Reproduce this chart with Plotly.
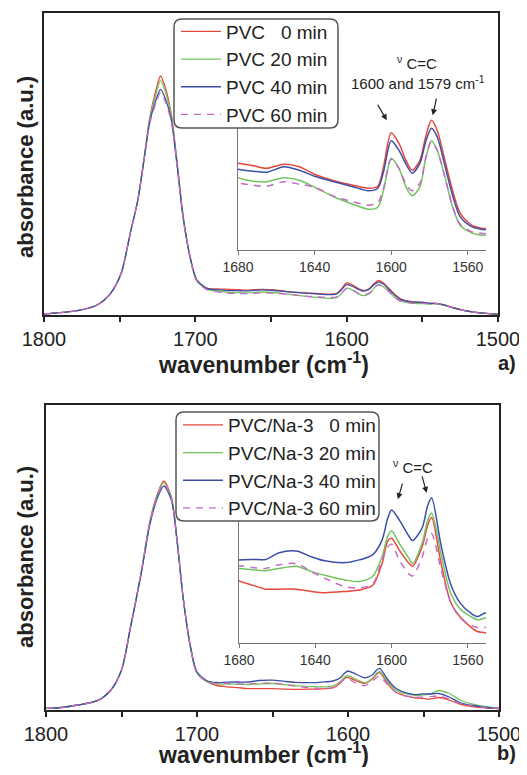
import plotly.graph_objects as go

# The page body adds an 8px margin on every side; size the figure so the page never overflows
WIN_W, WIN_H = 527, 775
OFF = 8
W, H = WIN_W - 2 * OFF, WIN_H - 2 * OFF
FONT = "Liberation Sans, Arial, sans-serif"

# ---------------- data (absorbance, arbitrary units) ----------------
wn_a = [1800, 1790, 1778, 1765, 1756, 1749, 1743, 1738, 1734, 1730, 1726, 1723, 1720, 1716, 1712, 1708, 1703, 1699, 1692, 1686,
        1680, 1672, 1665, 1656, 1648, 1640, 1630, 1620, 1612, 1607, 1604, 1600, 1596, 1592, 1589, 1585, 1582, 1579, 1576, 1572,
        1568, 1564, 1558, 1553, 1549,
        1545, 1541, 1536, 1530, 1522, 1512, 1500]
a_0min = [1, 2.3, 4.3, 10, 21.7, 41.7, 81.7, 115, 155, 198, 225, 239, 228, 202, 152, 98, 55, 35, 26.7, 26.0,
          25.9, 25.4, 24.9, 25.7, 25.2, 23.7, 22.4, 21.5, 20.9, 21.3, 25.2, 32.0, 29.9, 26.2, 24.5, 26.5, 31.2, 34.5, 32.5, 26.5,
          20.5, 15.9, 13.5, 12.9, 12.7,
          11.6, 11.7, 10.3, 7.5, 4.5, 2.2, 0.8]
a_20min = [1, 2.3, 4.3, 10, 21.7, 41.7, 81.7, 115, 155, 197, 221, 234.3, 224, 200, 151, 97, 54, 34, 25.5, 24.0,
           23.0, 22.3, 22.2, 23.0, 22.5, 21.1, 19.2, 17.7, 16.7, 17.1, 20.5, 26.9, 24.9, 20.9, 19.4, 21.2, 26.9, 30.4, 28.5, 23.2,
           17.2, 13.5, 12.0, 11.5, 11.5,
           11.0, 11.2, 9.9, 7.2, 4.3, 2.1, 0.8]
a_40min = [1, 2.3, 4.3, 10, 21.7, 41.7, 81.7, 115, 154, 194, 215, 225.7, 217, 196, 149, 97, 55, 35, 26.4, 25.3,
           24.7, 24.3, 24.1, 25.2, 24.5, 23.3, 22.2, 21.2, 20.4, 20.9, 24.2, 30.4, 28.5, 25.5, 23.9, 25.9, 30.2, 32.9, 31.2, 25.5,
           19.5, 15.2, 13.2, 12.7, 12.5,
           11.5, 11.6, 10.2, 7.4, 4.4, 2.2, 0.8]
a_60min = [1, 2.3, 4.3, 10, 21.7, 41.7, 81.7, 115, 153, 192, 212, 222.3, 214, 194, 148, 96, 54, 34, 25.0, 23.3,
           22.0, 21.5, 21.3, 22.2, 21.7, 21.1, 19.3, 18.2, 17.5, 18.0, 20.9, 26.7, 24.9, 21.5, 20.4, 21.9, 26.9, 30.2, 28.5, 23.2,
           17.3, 13.7, 12.2, 11.9, 11.7,
           11.1, 11.3, 10.0, 7.3, 4.3, 2.1, 0.8]

wn_b = [1800, 1790, 1779, 1766, 1757, 1750, 1744, 1737, 1731, 1726, 1722, 1717, 1713, 1709, 1704, 1700, 1693, 1687,
        1680, 1673, 1666, 1659, 1650, 1642, 1635, 1624, 1617, 1610, 1605, 1602, 1600, 1596, 1591, 1589, 1584, 1581, 1579,
        1574, 1569, 1564, 1558, 1555, 1551,
        1546, 1540, 1533, 1525, 1515, 1505, 1500]
b_0min = [1.7, 2.5, 5, 9.3, 20, 40, 83, 137, 190, 217, 229, 213, 167, 110, 60, 37, 28, 24.5,
          23.2, 22.3, 21.4, 21.4, 21.4, 20.9, 20.6, 20.9, 21.2, 22.2, 27.1, 32.1, 32.7, 30.1, 27.2, 26.5, 30.8, 35.7, 37.3,
          27.0, 18.5, 15.2, 12.8, 12.0, 11.7,
          10.8, 12.5, 10.0, 5.5, 3.0, 1.8, 1.5]
b_20min = [1.7, 2.5, 5, 9.3, 20, 40, 83, 137, 189, 216, 227.3, 212, 167, 110, 60, 37, 28, 26,
           26.0, 25.7, 25.5, 26.0, 26.5, 25.3, 24.5, 23.4, 23.1, 24.2, 28.6, 33.2, 34.3, 31.6, 28.3, 27.1, 31.6, 36.8, 38.3,
           29.0, 20.5, 17.0, 15.2, 14.6, 15.0,
           16.0, 19.5, 16.5, 9.5, 5.0, 2.5, 1.8]
b_40min = [1.7, 2.5, 5, 9.3, 20, 40, 83, 136, 187, 213, 224, 210, 166, 110, 61, 38, 29, 27.5,
           27.9, 28.0, 28.0, 29.5, 29.9, 28.6, 27.7, 27.3, 27.9, 29.0, 32.3, 37.2, 39.0, 36.8, 33.2, 32.2, 35.0, 40.1, 41.7,
           31.0, 22.5, 18.3, 15.9, 15.3, 16.1,
           16.0, 16.5, 13.0, 7.0, 4.0, 2.0, 1.5]
b_60min = [1.7, 2.5, 5, 9.3, 20, 40, 83, 137, 189, 215, 226, 211, 166, 110, 60, 37, 28, 26.5,
           26.6, 26.2, 26.0, 26.8, 27.1, 25.3, 23.8, 21.9, 21.7, 22.5, 27.9, 30.8, 31.4, 27.9, 24.8, 24.3, 28.5, 32.8, 33.7,
           25.7, 18.5, 15.0, 13.3, 12.9, 12.9,
           13.2, 14.0, 11.0, 6.0, 3.3, 2.0, 1.5]

names_a = ["PVC\u00a0\u00a0\u00a00 min", "PVC 20 min", "PVC 40 min", "PVC 60 min"]
names_b = ["PVC/Na-3\u00a0\u00a0\u00a00 min", "PVC/Na-3 20 min", "PVC/Na-3 40 min", "PVC/Na-3 60 min"]
main_ticks = [1800, 1750, 1700, 1650, 1600, 1550, 1500]
main_ticktext = ["1800", "", "1700", "", "1600", "", "1500"]
inset_ticks = [1680, 1640, 1600, 1560]

# ---------------- styles ----------------
colors = ["#e8473b", "#72c55e", "#3c4ea6", "#c66ac6"]
dashes = ["solid", "solid", "solid", "7px,6px"]


def px_x(x):
    """window pixel x -> paper fraction"""
    return (x - OFF) / W


def px_y(y):
    """window pixel y -> paper fraction"""
    return 1 - (y - OFF) / H


fig = go.Figure()

series_a = [a_0min, a_20min, a_40min, a_60min]
series_b = [b_0min, b_20min, b_40min, b_60min]

for i in range(4):
    fig.add_trace(go.Scatter(x=wn_a, y=series_a[i], mode="lines", name=names_a[i],
                             line=dict(color=colors[i], width=1.3, dash=dashes[i], shape="spline", smoothing=0.8),
                             xaxis="x", yaxis="y", legend="legend"))
for i in range(4):
    fig.add_trace(go.Scatter(x=wn_a, y=series_a[i], mode="lines", showlegend=False,
                             line=dict(color=colors[i], width=1.5, dash=dashes[i], shape="spline", smoothing=0.8),
                             xaxis="x3", yaxis="y3"))
for i in range(4):
    fig.add_trace(go.Scatter(x=wn_b, y=series_b[i], mode="lines", name=names_b[i],
                             line=dict(color=colors[i], width=1.3, dash=dashes[i], shape="spline", smoothing=0.8),
                             xaxis="x2", yaxis="y2", legend="legend2"))
for i in range(4):
    fig.add_trace(go.Scatter(x=wn_b, y=series_b[i], mode="lines", showlegend=False,
                             line=dict(color=colors[i], width=1.5, dash=dashes[i], shape="spline", smoothing=0.8),
                             xaxis="x4", yaxis="y4"))


def main_x(domain, anchor):
    return dict(domain=domain, anchor=anchor, range=[1800, 1500], tickmode="array",
                tickvals=main_ticks, ticktext=main_ticktext, ticks="outside", ticklen=5, tickwidth=1.5,
                tickcolor="#222", showline=True, linecolor="#222", linewidth=1.5, mirror=True,
                showgrid=False, zeroline=False, ticklabelstandoff=0, automargin=False,
                ticklabeloverflow="allow",
                tickfont=dict(size=20, family=FONT, color="#222"))


def main_y(domain, anchor, top):
    return dict(domain=domain, anchor=anchor, range=[0, top], showline=True, linecolor="#222",
                linewidth=1.5, mirror=True, showgrid=False, zeroline=False, ticks="",
                showticklabels=False, automargin=False)


def inset_x(domain, anchor):
    return dict(domain=domain, anchor=anchor, range=[1680, 1550.5], tickmode="array",
                tickvals=inset_ticks, ticks="outside", ticklen=4, tickwidth=1, tickcolor="#777",
                showline=True, linecolor="#777", linewidth=1, mirror=False, showgrid=False,
                zeroline=False, automargin=False, tickfont=dict(size=14, family=FONT, color="#333"))


def inset_y(domain, anchor, rng):
    return dict(domain=domain, anchor=anchor, range=rng, showline=True, linecolor="#777",
                linewidth=1, mirror=False, showgrid=False, zeroline=False, ticks="",
                showticklabels=False, automargin=False)


def rrect(x0, y0, x1, y1, r):
    pts = [
        ("M", [(x0 + r, y0)]), ("L", [(x1 - r, y0)]), ("Q", [(x1, y0), (x1, y0 + r)]),
        ("L", [(x1, y1 - r)]), ("Q", [(x1, y1), (x1 - r, y1)]), ("L", [(x0 + r, y1)]),
        ("Q", [(x0, y1), (x0, y1 - r)]), ("L", [(x0, y0 + r)]), ("Q", [(x0, y0), (x0 + r, y0)]),
    ]
    s = ""
    for cmd, ps in pts:
        s += cmd + " ".join(f"{px_x(a):.5f},{px_y(b):.5f}" for a, b in ps) + " "
    return s + "Z"


leg_font = dict(size=19, family=FONT, color="#222")

fig.update_layout(
    width=W, height=H,
    margin=dict(l=0, r=0, t=0, b=0, pad=0, autoexpand=False),
    paper_bgcolor="white", plot_bgcolor="rgba(0,0,0,0)",
    xaxis=main_x([px_x(44), px_x(498)], "y"),
    yaxis=main_y([px_y(315), px_y(13)], "x", 302),
    xaxis2=main_x([px_x(46), px_x(499)], "y2"),
    yaxis2=main_y([px_y(710), px_y(405)], "x2", 305),
    xaxis3=inset_x([px_x(238), px_x(486)], "y3"),
    yaxis3=inset_y([px_y(250), px_y(100)], "x3", [8.54, 38.54]),
    xaxis4=inset_x([px_x(239), px_x(486)], "y4"),
    yaxis4=inset_y([px_y(643), px_y(480)], "x4", [9.43, 45.66]),
    legend=dict(x=px_x(176), y=px_y(12.5), xanchor="left", yanchor="top", bgcolor="rgba(0,0,0,0)",
                borderwidth=0, font=leg_font, itemwidth=40, tracegroupgap=0),
    legend2=dict(x=px_x(178), y=px_y(406), xanchor="left", yanchor="top", bgcolor="rgba(0,0,0,0)",
                 borderwidth=0, font=leg_font, itemwidth=40, tracegroupgap=0),
    shapes=[
        dict(type="path", xref="paper", yref="paper", path=rrect(174, 19, 338, 128, 8),
             fillcolor="white", line=dict(color="#555", width=1.5), layer="above"),
        dict(type="path", xref="paper", yref="paper", path=rrect(176, 412, 379, 521, 8),
             fillcolor="white", line=dict(color="#555", width=1.5), layer="above"),
    ],
)

ann = []
title_font = dict(size=23, family=FONT, color="#222")
for yc in (363, 753):
    ann.append(dict(text="<b>wavenumber (cm<sup>-1</sup>)</b>", x=px_x(263.5), y=px_y(yc), xref="paper",
                    yref="paper", showarrow=False, xanchor="center", yanchor="middle", font=title_font))
for yc in (167, 557):
    ann.append(dict(text="<b>absorbance (a.u.)</b>", x=px_x(25), y=px_y(yc), xref="paper", yref="paper",
                    showarrow=False, textangle=-90, xanchor="center", yanchor="middle",
                    font=dict(size=22, family=FONT, color="#222")))
ann.append(dict(text="<b>a)</b>", x=px_x(518), y=px_y(363), xref="paper", yref="paper", showarrow=False,
                xanchor="right", yanchor="middle", font=dict(size=20, family=FONT, color="#222")))
ann.append(dict(text="<b>b)</b>", x=px_x(518), y=px_y(753), xref="paper", yref="paper", showarrow=False,
                xanchor="right", yanchor="middle", font=dict(size=20, family=FONT, color="#222")))

lab_font = dict(size=15, family=FONT, color="#222")
ann.append(dict(text="<sup>\u03bd</sup> C=C", x=px_x(417), y=px_y(62), xref="paper", yref="paper",
                showarrow=False, xanchor="center", yanchor="middle", font=lab_font))
ann.append(dict(text="1600 and 1579 cm<sup>-1</sup>", x=px_x(418), y=px_y(83), xref="paper", yref="paper",
                showarrow=False, xanchor="center", yanchor="middle", font=lab_font))
ann.append(dict(text="<sup>\u03bd</sup> C=C", x=px_x(413), y=px_y(467), xref="paper", yref="paper",
                showarrow=False, xanchor="center", yanchor="middle", font=lab_font))

arrow_style = dict(text="", showarrow=True, arrowhead=2, arrowsize=1, arrowwidth=1.2, arrowcolor="#222")
ann.append(dict(x=1602.3, y=34.5, xref="x3", yref="y3", ax=-10, ay=-17, **arrow_style))
ann.append(dict(x=1578.3, y=35.5, xref="x3", yref="y3", ax=4, ay=-18, **arrow_style))
ann.append(dict(x=1596.7, y=41.4, xref="x4", yref="y4", ax=5, ay=-17, **arrow_style))
ann.append(dict(x=1581.6, y=42.8, xref="x4", yref="y4", ax=-5, ay=-18, **arrow_style))

fig.update_layout(annotations=ann)

fig.write_html("out.html")
